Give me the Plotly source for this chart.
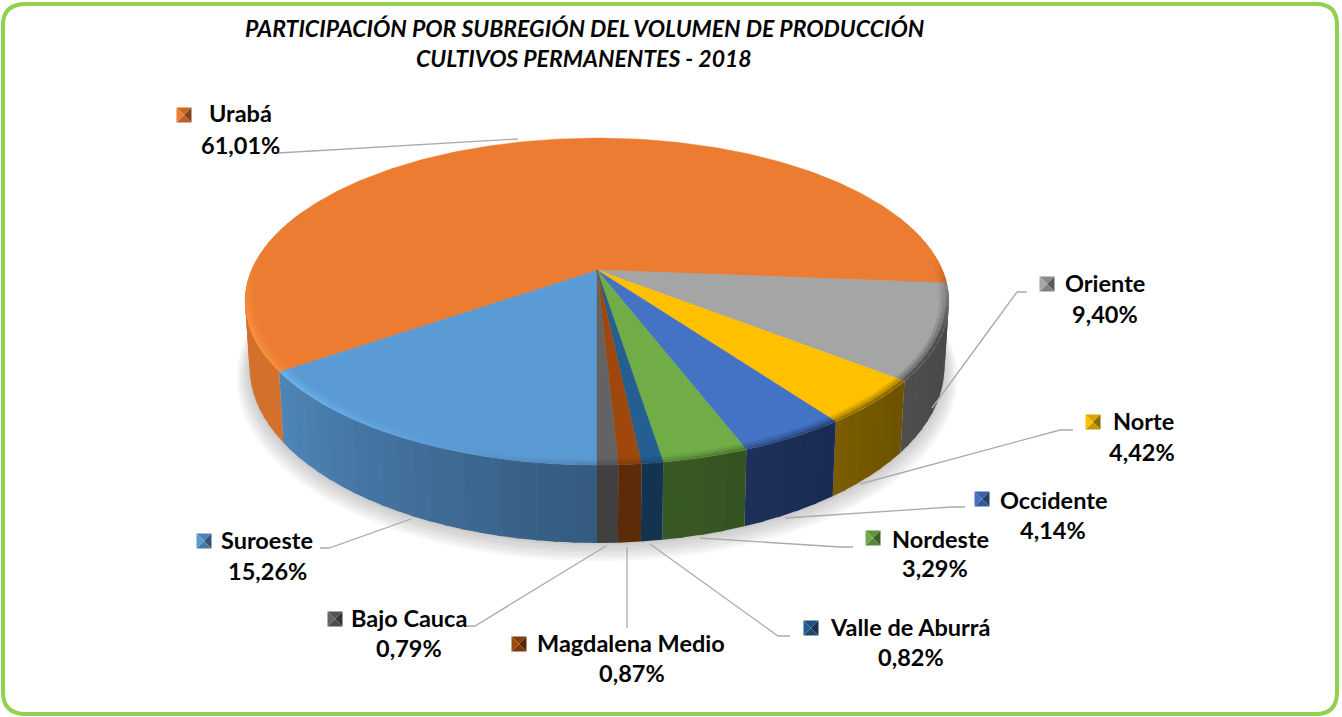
import numpy as np
import plotly.graph_objects as go

# ---------- data ----------
subregions = ["Suroeste", "Urabá", "Oriente", "Norte", "Occidente", "Nordeste",
              "Valle de Aburrá", "Magdalena Medio", "Bajo Cauca"]
shares = [15.26, 61.01, 9.40, 4.42, 4.14, 3.29, 0.82, 0.87, 0.79]
share_labels = ["15,26%", "61,01%", "9,40%", "4,42%", "4,14%", "3,29%", "0,82%", "0,87%", "0,79%"]
title_lines = ["PARTICIPACIÓN POR SUBREGIÓN DEL VOLUMEN DE PRODUCCIÓN",
               "CULTIVOS PERMANENTES - 2018"]

# ---------- styles ----------
top_colors = ["#5B9BD5", "#EB7C31", "#A5A5A5", "#FFC000", "#4472C4", "#70AD47", "#255E91", "#9E480E", "#636363"]
wall_left = ["#4f86b8", "#d2702c", "#4e4e4e", "#7c5d00", "#1c305a", "#3a5a24", "#133450", "#5c2c09", "#404040"]
wall_right = ["#345a7e", "#d2702c", "#444444", "#6c5200", "#1a2c52", "#345220", "#133450", "#5c2c09", "#404040"]

# label layout: key centre, name centre/y, value centre/y
key_xy = [(204, 541), (184, 115), (1047, 284), (1093, 422), (982, 499), (873, 538), (811, 628), (519, 644), (335, 619)]
name_xy = [(267, 540), (240, 113), (1105, 283), (1143, 421), (1053, 500), (940, 539), (910, 627), (631, 643), (409, 618)]
value_xy = [(267, 571), (240, 145), (1105, 314), (1142, 452), (1053, 530), (935, 568), (911, 657), (632, 673), (409, 648)]
leaders = [
    [(320, 548), (329, 548), (411, 519)],
    [(278, 153), (518, 139)],
    [(1027, 292), (1017, 292), (932, 408)],
    [(1073, 430), (1060, 430), (860, 484)],
    [(965, 507), (952, 507), (785, 518)],
    [(853, 547), (840, 547), (700, 538)],
    [(790, 636), (778, 636), (650, 544)],
    [(627, 628), (627, 547)],
    [(465, 626), (475, 626), (606, 546)],
]

# ---------- projection of the tilted disc onto the page ----------
CX, CY, A, B, P = 597, 270, 345.4, 157.4, 0.1926
DROP, SHRINK = 63, 0.987


def top_pt(theta, r=1.0):
    X, Y = -np.sin(theta) * r, np.cos(theta) * r
    d = 1 - P * Y
    return CX + A * X / d, CY + B * Y / d


def low_pt(theta, grow=1.0, dy=0.0):
    X, Y = -np.sin(theta) * grow, np.cos(theta) * grow
    d = 1 - P * Y
    return CX + SHRINK * A * X / d, CY + (B * Y + DROP) / d + dy


def rgb(h):
    return np.array([int(h[i:i + 2], 16) for i in (1, 3, 5)], float)


def mix(c1, c2, t):
    v = rgb(c1) * (1 - t) + rgb(c2) * t
    return "rgb(%d,%d,%d)" % tuple(v.round())


def poly(xs, ys, color):
    return go.Scatter(x=list(xs), y=list(ys), mode="lines", fill="toself", fillcolor=color,
                      line=dict(width=0), hoverinfo="skip", showlegend=False)


fig = go.Figure()
edges = np.deg2rad(np.concatenate([[0], np.cumsum(shares)]) * 3.6)
full = np.linspace(0, 2 * np.pi, 241)
LAP = 0.012

# soft shadow under the disc
for g, dy in [(1.036, 9), (1.030, 8), (1.024, 7), (1.018, 5), (1.012, 4), (1.006, 2), (1.002, 1)]:
    sx, sy = low_pt(full, g, dy)
    fig.add_trace(go.Scatter(x=sx, y=sy, mode="lines", fill="toself", fillcolor="rgba(0,0,0,0.03)",
                             line=dict(width=0), hoverinfo="skip", showlegend=False))

# outer walls, in narrow strips for the shading
for i in range(len(shares)):
    a0, a1 = edges[i], edges[i + 1]
    n = max(1, int(np.degrees(a1 - a0) / 2.5))
    st = np.linspace(a0, a1, n + 1)
    for k in range(n):
        a, b = st[k], st[k + 1]
        if np.cos(a) < -0.35 and np.cos(b) < -0.35:
            continue
        arc = np.linspace(a, min(b + LAP, a1), 4)
        tx, ty = top_pt(arc)
        lx, ly = low_pt(arc)
        col = mix(wall_left[i], wall_right[i], 1 - (k + .5) / n)
        fig.add_trace(poly(np.r_[tx, lx[::-1]], np.r_[ty, ly[::-1]], col))

# top faces
for i in range(len(shares)):
    arc = np.linspace(edges[i], edges[i + 1], max(3, int(np.degrees(edges[i + 1] - edges[i]))))
    tx, ty = top_pt(arc)
    fig.add_trace(go.Scatter(x=np.r_[CX, tx, CX], y=np.r_[CY, ty, CY], mode="lines", fill="toself",
                             fillcolor=top_colors[i], line=dict(color=top_colors[i], width=0.4),
                             name=subregions[i], hoverinfo="skip", showlegend=False))

# bevel along the near rim: bright on the left, dark on the right
for i in range(len(shares)):
    a0, a1 = edges[i], edges[i + 1]
    n = max(1, int(np.degrees(a1 - a0) / 2))
    st = np.linspace(a0, a1, n + 1)
    for r0, r1, f in [(0.974, 0.982, 0.25), (0.982, 0.991, 0.55), (0.991, 1.0, 1.0)]:
        for k in range(n):
            a, b = st[k], st[k + 1]
            m = (a + b) / 2
            X, Y = -np.sin(m), np.cos(m)
            w = float(np.clip((Y + 0.06) / 0.45, 0, 1))
            if w <= 0:
                continue
            arc = np.linspace(a, min(b + LAP, a1), 4)
            ox, oy = top_pt(arc, r1)
            ix, iy = top_pt(arc, r0)
            s = (X * 0.42 + 0.14) * w * f
            col = mix(top_colors[i], "#000000", s) if s > 0 else mix(top_colors[i], "#7cc4ff" if i == 0 else "#ff9a48", min(-s * 2.6, 1))
            fig.add_trace(poly(np.r_[ox, ix[::-1]], np.r_[oy, iy[::-1]], col))

# leader lines
for pts in leaders:
    fig.add_trace(go.Scatter(x=[p[0] for p in pts], y=[p[1] for p in pts], mode="lines",
                             line=dict(color="#ababab", width=1.3), hoverinfo="skip", showlegend=False))

# labels
FONT = "Lato, Carlito, Calibri, sans-serif"
notes = []
for i, name in enumerate(subregions):
    notes.append(dict(x=name_xy[i][0], y=name_xy[i][1], text="<b>%s</b>" % name))
    notes.append(dict(x=value_xy[i][0], y=value_xy[i][1], text="<b>%s</b>" % share_labels[i]))
annotations = [dict(xref="x", yref="y", showarrow=False, xanchor="center", yanchor="middle",
                    font=dict(family=FONT, size=23.5, color="#050505"), **n) for n in notes]
for line, y in zip(title_lines, (28, 58)):
    annotations.append(dict(x=584, y=y, xref="x", yref="y", showarrow=False, xanchor="center", yanchor="middle",
                            text="<b><i>%s</i></b>" % line, font=dict(family=FONT, size=23, color="#050505")))

# frame and legend keys
shapes = [dict(type="path", xref="x", yref="y", layer="below",
               path="M 26 4 L 1316 4 Q 1337 4 1337 25 L 1337 692 Q 1337 714 1316 714 L 26 714 Q 3 714 3 692 L 3 25 Q 3 4 26 4 Z",
               line=dict(color="#92D050", width=4), fillcolor="white")]
for i, (kx, ky) in enumerate(key_xy):
    h = 7.5
    tri = [((-1, -1), (1, -1), 0.15), ((1, -1), (1, 1), 0.45), ((1, 1), (-1, 1), 0.22), ((-1, 1), (-1, -1), 0.0)]
    for p, q, t in tri:
        shapes.append(dict(type="path", xref="x", yref="y", layer="above",
                           path="M %.1f %.1f L %.1f %.1f L %.1f %.1f Z" % (kx + p[0] * h, ky + p[1] * h, kx + q[0] * h, ky + q[1] * h, kx, ky),
                           fillcolor=mix(top_colors[i], "#000000", t), line=dict(width=0)))

fig.update_layout(
    width=1342, height=717, margin=dict(l=0, r=0, t=0, b=0),
    paper_bgcolor="white", plot_bgcolor="white", showlegend=False,
    xaxis=dict(range=[0, 1342], visible=False, fixedrange=True),
    yaxis=dict(range=[717, 0], visible=False, fixedrange=True),
    annotations=annotations, shapes=shapes,
)
fig.write_html("out.html", config={"displayModeBar": False},
               post_script="document.body.style.margin='0';document.body.style.overflow='hidden';")
